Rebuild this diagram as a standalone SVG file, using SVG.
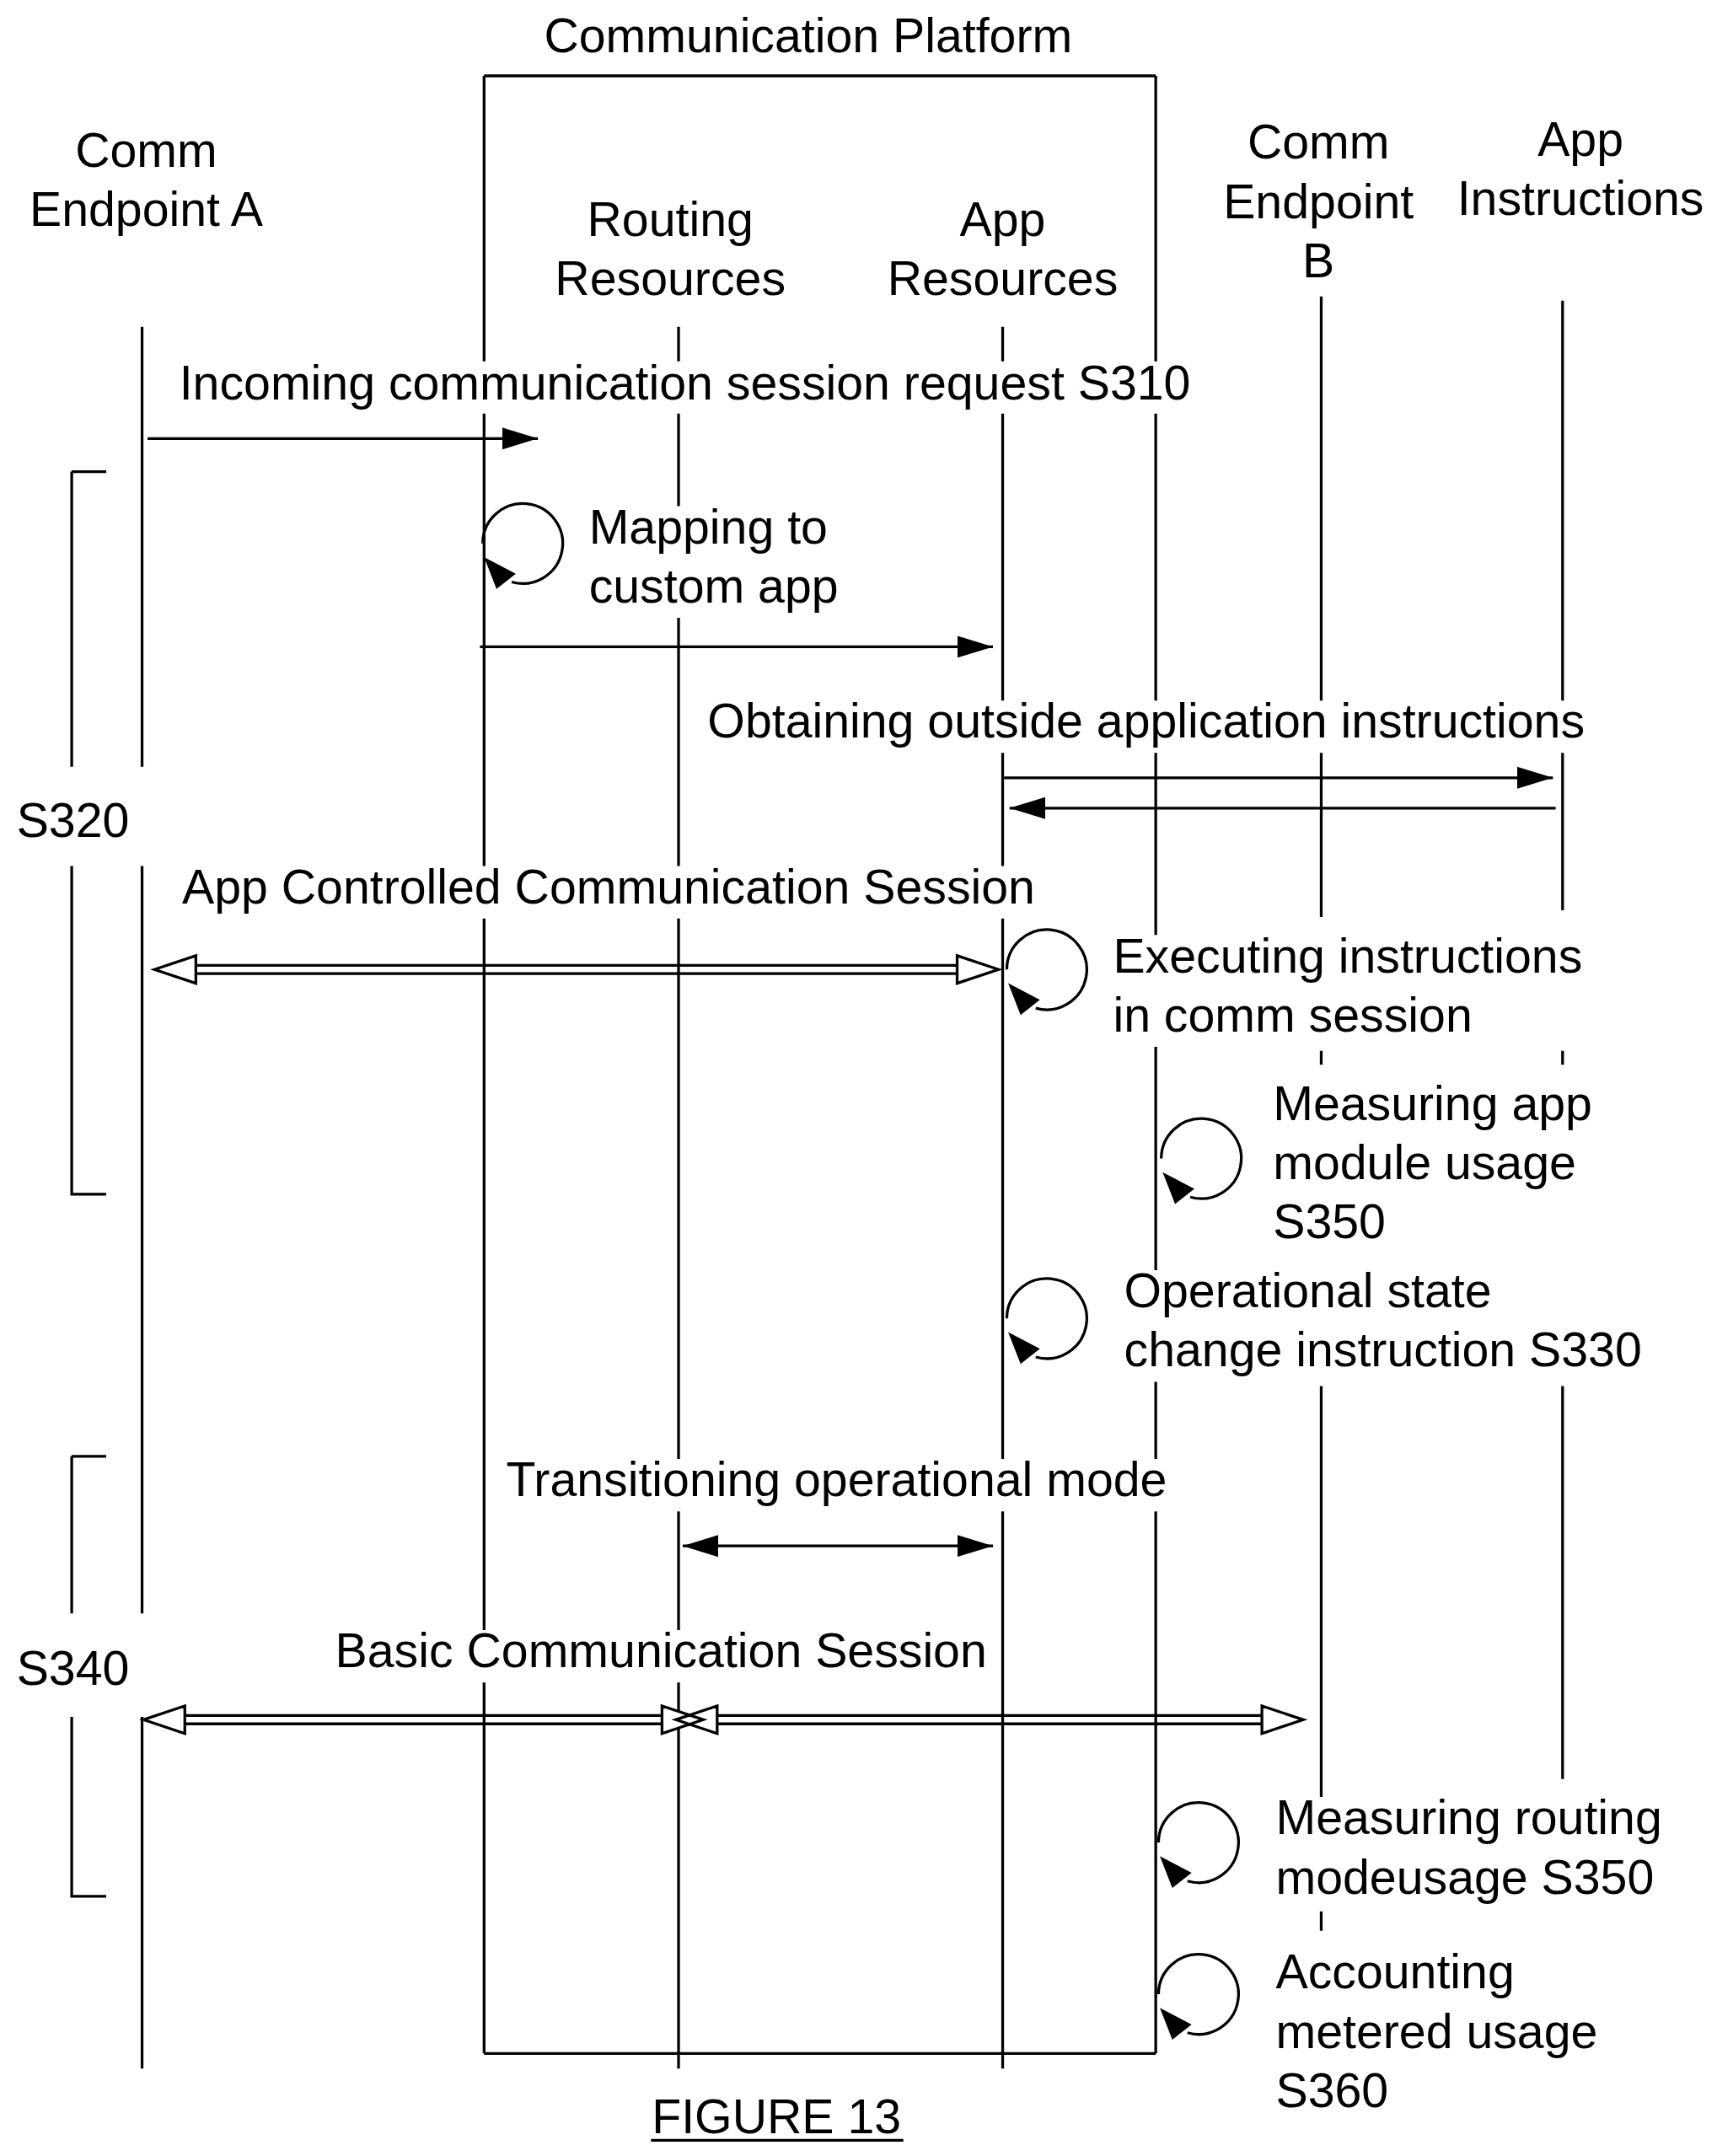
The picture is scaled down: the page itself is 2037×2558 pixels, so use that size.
<svg xmlns="http://www.w3.org/2000/svg" width="2037" height="2558" viewBox="0 0 2037 2558">
<style>
.l{stroke:#000;stroke-width:2;fill:none}
.t{font-family:"Liberation Sans",Arial,sans-serif;font-size:35px;fill:#000}
.c{text-anchor:middle}
.h{fill:#fff;stroke:#000;stroke-width:2}
</style>
<defs>
<marker id="a" markerUnits="userSpaceOnUse" markerWidth="30" markerHeight="20" refX="26" refY="10" orient="auto"><path d="M0,2 L26,10 L0,18 Z" fill="#000"/></marker>
<marker id="s" markerUnits="userSpaceOnUse" markerWidth="30" markerHeight="20" refX="26" refY="10" orient="auto-start-reverse"><path d="M0,2 L26,10 L0,18 Z" fill="#000"/></marker>
<g id="loop"><path class="l" d="M-29,0 A29,29 0 1 1 -8,28"/><path d="M-28,10 L-19,33 L-5,22 Z" fill="#000"/></g>
</defs>
<rect width="2037" height="2558" fill="#fff"/>
<g transform="scale(1.6362)">
<g id="lifelines">
<path class="l" d="M103,237V556M103,628V1170M103,1245V1500"/>
<path class="l" d="M351,55H838M351,1489H838"/>
<path class="l" d="M351,55V262M351,300V628M351,666V1182M351,1220V1489"/>
<path class="l" d="M838,55V262M838,300V508M838,546V678M838,759V921M838,1002V1058M838,1096V1489"/>
<path class="l" d="M492,237V262M492,300V367M492,448V628M492,666V1058M492,1096V1182M492,1220V1500"/>
<path class="l" d="M727,237V262M727,300V508M727,546V628M727,666V1058M727,1096V1500"/>
<path class="l" d="M958,215V508M958,546V665M958,762V772M958,1005V1303M958,1386V1400"/>
<path class="l" d="M1133,218V508M1133,546V660M1133,762V772M1133,1005V1290"/>
<path class="l" d="M52,342H77M52,342V556M52,628V866H77"/>
<path class="l" d="M52,1056H77M52,1056V1170M52,1245V1375H77"/>
</g>
<g id="connectors">
<line class="l" x1="107" y1="318" x2="390" y2="318" marker-end="url(#a)"/>
<line class="l" x1="348" y1="469" x2="720" y2="469" marker-end="url(#a)"/>
<line class="l" x1="728" y1="564" x2="1126" y2="564" marker-end="url(#a)"/>
<line class="l" x1="1128" y1="586" x2="732" y2="586" marker-end="url(#a)"/>
<line class="l" x1="495" y1="1121" x2="720" y2="1121" marker-start="url(#s)" marker-end="url(#a)"/>
<path class="l" d="M142,700H694M142,706H694"/>
<path class="h" d="M112,703L142,693V713Z M724,703L694,693V713Z"/>
<path class="l" d="M134,1244H480M134,1250H480M520,1244H915M520,1250H915"/>
<path class="h" d="M104,1247L134,1237V1257Z M510,1247L480,1237V1257Z M490,1247L520,1237V1257Z M945,1247L915,1237V1257Z"/>
<use href="#loop" x="379" y="394"/>
<use href="#loop" x="759" y="703"/>
<use href="#loop" x="871" y="840"/>
<use href="#loop" x="759" y="956"/>
<use href="#loop" x="869" y="1336"/>
<use href="#loop" x="869" y="1446"/>
</g>
<g id="labels">
<text class="t c" x="586" y="38">Communication Platform</text>
<text class="t c" x="106" y="121">Comm</text><text class="t c" x="106" y="164">Endpoint A</text>
<text class="t c" x="486" y="171">Routing</text><text class="t c" x="486" y="214">Resources</text>
<text class="t c" x="727" y="171">App</text><text class="t c" x="727" y="214">Resources</text>
<text class="t c" x="956" y="115">Comm</text><text class="t c" x="956" y="158">Endpoint</text><text class="t c" x="956" y="201">B</text>
<text class="t c" x="1146" y="113">App</text><text class="t c" x="1146" y="156">Instructions</text>
<text class="t" x="130" y="290">Incoming communication session request S310</text>
<text class="t" x="427" y="394">Mapping to</text><text class="t" x="427" y="437">custom app</text>
<text class="t" x="513" y="535">Obtaining outside application instructions</text>
<text class="t" x="12" y="607">S320</text>
<text class="t" x="132" y="655">App Controlled Communication Session</text>
<text class="t" x="807" y="705">Executing instructions</text><text class="t" x="807" y="748">in comm session</text>
<text class="t" x="923" y="812">Measuring app</text><text class="t" x="923" y="855">module usage</text><text class="t" x="923" y="898">S350</text>
<text class="t" x="815" y="948">Operational state</text><text class="t" x="815" y="991">change instruction S330</text>
<text class="t" x="367" y="1085">Transitioning operational mode</text>
<text class="t" x="243" y="1209">Basic Communication Session</text>
<text class="t" x="12" y="1222">S340</text>
<text class="t" x="925" y="1330">Measuring routing</text><text class="t" x="925" y="1373">modeusage S350</text>
<text class="t" x="925" y="1442">Accounting</text><text class="t" x="925" y="1485">metered usage</text><text class="t" x="925" y="1528">S360</text>
<text class="t c" x="563" y="1547">FIGURE 13</text>
<line class="l" x1="472" y1="1552" x2="655" y2="1552"/>
</g>
</g>
</svg>
